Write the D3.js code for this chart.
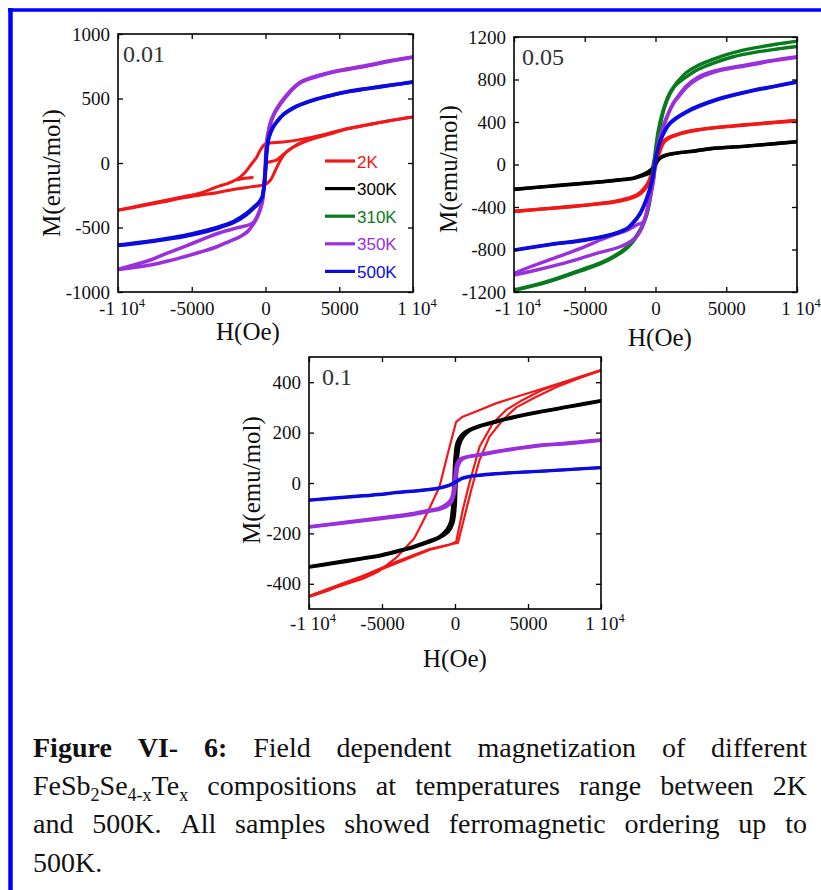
<!DOCTYPE html>
<html>
<head>
<meta charset="utf-8">
<script src="https://cdn.jsdelivr.net/npm/d3@7"></script>
<style>
body { margin: 0; background: #fff; }
svg { display: block; }
</style>
</head>
<body>
<svg id="fig" width="821" height="890"></svg>
<script>
// ---------- data : M(emu/mol) vs H(Oe), branches of each loop ----------
var temps = ['2K', '300K', '310K', '350K', '500K'];

var x_ticks = [-10000, -5000, 0, 5000, 10000];
var x_tick_labels = ['-1 10^4', '-5000', '0', '5000', '1 10^4'];
var y_ticks_001 = [-1000, -500, 0, 500, 1000];
var y_ticks_005 = [-1200, -800, -400, 0, 400, 800, 1200];
var y_ticks_01 = [-400, -200, 0, 200, 400];

// x = 0.01
var x001_2K_down = [[10000,357],[8500,330],[7000,298],[5500,265],[4000,222],[2400,183],[1200,162],[0,148],[-300,110],[-600,45],[-900,0],[-1400,-75],[-2000,-130],[-2600,-160],[-3300,-185],[-4400,-233],[-5500,-260],[-7000,-295],[-8500,-330],[-10000,-364]];
var x001_2K_up = [[-10000,-366],[-8500,-336],[-7000,-303],[-5500,-268],[-4400,-248],[-3300,-230],[-2200,-205],[-1000,-185],[0,-166],[340,-132],[680,-54],[1020,23],[1360,77],[1900,124],[2800,172],[3500,198],[4500,228],[5500,263],[7000,297],[8500,330],[10000,357]];
var x001_2K_virgin = [[0,0],[300,10],[700,20],[1000,45],[1450,90],[2100,140],[2800,175]];
var x001_2K_stub = [[-1900,-130],[-1400,-118],[-900,-112]];
var x001_350K_down = [[10000,820],[8500,790],[6900,752],[5500,724],[4600,705],[3500,670],[2400,625],[1900,580],[1400,515],[1000,455],[550,370],[230,260],[60,150],[0,20],[-80,-150],[-230,-310],[-570,-416],[-900,-468],[-2000,-505],[-3300,-548],[-4400,-598],[-5500,-648],[-6700,-700],[-7800,-752],[-10000,-824]];
var x001_350K_up = [[-10000,-826],[-8800,-808],[-7800,-791],[-6600,-760],[-5500,-726],[-4400,-690],[-3300,-649],[-2400,-605],[-1700,-570],[-1200,-530],[-800,-470],[-500,-405],[-250,-305],[-80,-150],[30,20],[120,170],[300,300],[600,390],[1000,462],[1400,522],[1900,583],[2400,630],[3500,676],[4600,708],[5500,728],[6900,757],[8500,794],[10000,822]];
var x001_500K_down = [[10000,630],[8500,602],[6900,575],[5500,550],[4600,527],[3500,495],[2400,452],[1900,426],[1250,378],[800,322],[500,272],[230,200],[80,95],[0,-40],[-80,-150],[-230,-262],[-500,-312],[-800,-342],[-1300,-392],[-2150,-452],[-3300,-500],[-4400,-533],[-5500,-562],[-6700,-585],[-8300,-612],[-10000,-636]];
var x001_500K_up = [[-10000,-640],[-8300,-617],[-6700,-591],[-5500,-570],[-4400,-543],[-3300,-508],[-2150,-461],[-1300,-401],[-800,-350],[-500,-317],[-230,-268],[-60,-150],[20,-30],[100,100],[250,205],[500,278],[800,326],[1250,381],[1900,430],[2400,455],[3500,498],[4600,530],[5500,553],[6900,578],[8500,604],[10000,626]];

// x = 0.05
var x005_2K_down = [[10000,415],[8500,398],[6900,380],[5500,364],[4000,345],[3000,328],[2200,308],[1500,282],[1000,258],[600,225],[300,180],[100,110],[-100,40],[-250,-60],[-450,-150],[-800,-225],[-1300,-285],[-2000,-320],[-3000,-350],[-4500,-375],[-6000,-395],[-8000,-418],[-10000,-440]];
var x005_2K_up = [[-10000,-442],[-8000,-420],[-6000,-398],[-4500,-378],[-3000,-355],[-2000,-328],[-1300,-295],[-800,-240],[-450,-170],[-200,-90],[0,-20],[150,50],[350,140],[600,210],[1000,252],[1500,278],[2200,304],[3000,325],[4000,342],[5500,361],[6900,378],[8500,396],[10000,412]];
var x005_300K_down = [[10000,215],[8000,192],[6500,175],[3900,150],[2500,124],[1300,105],[700,88],[350,65],[100,25],[-100,-15],[-300,-48],[-600,-75],[-900,-95],[-1600,-128],[-2500,-142],[-3900,-162],[-5300,-178],[-7500,-203],[-10000,-233]];
var x005_300K_up = [[-10000,-235],[-7500,-206],[-5300,-181],[-3900,-165],[-2500,-146],[-1600,-133],[-900,-105],[-500,-85],[-250,-55],[-50,-10],[150,35],[400,66],[800,88],[1300,103],[2500,122],[3900,148],[6500,173],[8000,190],[10000,213]];
var x005_310K_down = [[10000,1160],[8500,1132],[7000,1097],[5500,1052],[4100,992],[2900,925],[2200,868],[1700,800],[1300,735],[1000,672],[550,515],[200,325],[0,140],[-150,-30],[-300,-240],[-620,-459],[-1100,-617],[-2000,-774],[-3450,-899],[-5300,-993],[-7700,-1103],[-10000,-1181]];
var x005_310K_up = [[-10000,-1185],[-7700,-1110],[-5300,-1002],[-3450,-908],[-2000,-786],[-1100,-630],[-620,-475],[-300,-265],[-100,-60],[100,140],[300,340],[600,520],[1000,658],[1400,742],[2200,828],[2900,888],[4100,955],[5500,1014],[7000,1055],[8500,1085],[10000,1110]];
var x005_350K_down = [[10000,1015],[8500,985],[6500,940],[4100,878],[3000,822],[2200,742],[1600,645],[1250,578],[800,452],[320,262],[40,75],[-150,-146],[-500,-365],[-860,-539],[-1330,-569],[-2000,-618],[-3000,-665],[-3900,-711],[-5300,-790],[-7200,-883],[-8800,-960],[-10000,-1024]];
var x005_350K_up = [[-10000,-1040],[-8400,-993],[-6800,-940],[-5300,-883],[-4000,-830],[-2500,-774],[-1700,-720],[-1200,-655],[-860,-560],[-500,-380],[-150,-160],[40,60],[320,250],[800,440],[1250,568],[1600,632],[2200,728],[3000,808],[4100,868],[6500,932],[8500,980],[10000,1010]];
var x005_500K_down = [[10000,779],[8500,740],[6700,693],[4300,612],[2200,500],[1000,390],[440,262],[80,105],[-150,-83],[-510,-271],[-1100,-459],[-1500,-530],[-2000,-598],[-3000,-652],[-5000,-708],[-7500,-752],[-10000,-805]];
var x005_500K_up = [[-10000,-808],[-7500,-756],[-5000,-713],[-3000,-658],[-2000,-606],[-1500,-540],[-1100,-470],[-510,-285],[-150,-95],[80,95],[440,250],[1000,380],[2200,492],[4300,606],[6700,688],[8500,736],[10000,775]];

// x = 0.1
var x01_2K_down = [[10000,448],[8500,420],[7400,400],[6200,378],[5100,358],[4000,338],[2800,316],[1700,290],[530,263],[80,243],[-500,115],[-1060,-15],[-1750,-100],[-2300,-165],[-2800,-220],[-4000,-295],[-5200,-350],[-6300,-380],[-8600,-422],[-10000,-450]];
var x01_2K_up = [[-10000,-452],[-8600,-425],[-6300,-372],[-4000,-318],[-1750,-266],[-400,-246],[80,-233],[530,-107],[990,0],[1680,144],[2590,237],[3500,290],[4500,325],[6000,370],[7400,398],[8600,420],[10000,446]];
var x01_2K_up2 = [[-10000,-448],[-6300,-368],[-4000,-312],[-1750,-262],[-400,-244],[200,-238],[650,-134],[1110,-28],[1680,91],[2360,184],[3270,250],[4200,300],[5500,340],[7000,382],[8500,416],[10000,447]];
var x01_300K_down = [[10000,327],[8000,306],[5800,283],[4000,262],[2800,245],[1700,228],[1000,212],[450,190],[150,160],[0,100],[-80,0],[-170,-100],[-300,-155],[-550,-185],[-1060,-213],[-1750,-230],[-2900,-253],[-4000,-270],[-5200,-287],[-6300,-298],[-8200,-315],[-10000,-332]];
var x01_300K_up = [[-10000,-334],[-8200,-318],[-6300,-300],[-5200,-290],[-4000,-273],[-2900,-256],[-1750,-234],[-1060,-217],[-450,-193],[-150,-160],[0,-100],[80,0],[170,100],[300,152],[550,182],[1000,208],[1700,225],[2800,242],[4000,260],[5800,281],[8000,304],[10000,325]];
var x01_350K_down = [[10000,171],[8500,163],[7400,157],[5800,150],[4000,136],[2800,125],[1700,113],[800,104],[400,96],[200,85],[80,65],[0,30],[-60,-10],[-150,-45],[-300,-67],[-600,-85],[-1060,-100],[-1750,-108],[-3000,-122],[-5000,-138],[-7500,-156],[-10000,-173]];
var x01_350K_up = [[-10000,-175],[-7500,-158],[-5000,-141],[-3000,-126],[-1750,-112],[-1060,-105],[-600,-93],[-300,-80],[-100,-55],[0,-25],[60,15],[150,55],[300,80],[500,95],[800,102],[1700,111],[2800,123],[4000,134],[5800,148],[7400,155],[10000,169]];
var x01_500K_down = [[10000,62],[8000,55],[6000,48],[4000,42],[2800,38],[1500,31],[1000,27],[500,20],[100,8],[-200,-2],[-600,-12],[-1000,-18],[-1750,-25],[-3000,-32],[-4000,-37],[-5200,-45],[-6300,-50],[-8000,-58],[-10000,-67]];
var x01_500K_up = [[-10000,-68],[-8000,-60],[-6300,-52],[-5200,-47],[-4000,-39],[-3000,-34],[-1750,-27],[-1000,-20],[-600,-14],[-200,-5],[100,4],[500,17],[1000,25],[1500,29],[2800,36],[4000,41],[6000,47],[8000,54],[10000,61]];

var caption_lines = [
    '**Figure** **VI-** **6:** Field dependent magnetization of different',
    'FeSb_{2}Se_{4-x}Te_{x} compositions at temperatures range between 2K',
    'and 500K. All samples showed ferromagnetic ordering up to',
    '500K.'
];
var caption_justify = [true, true, true, false];

// ---------- styles ----------
var temp_colors = {'2K': '#f01818', '300K': '#000000', '310K': '#0a7a1e', '350K': '#9a30dc', '500K': '#0c0cde'};
var serif = '"Liberation Serif", "Times New Roman", serif';

var panels = [
    {
        label: '0.01', box: [118, 34, 413, 292], y_domain: [-1000, 1000], y_ticks: y_ticks_001,
        x_pad: 10, label_dx: 5, xtitle: [248, 340], ytitle: [60, 173], legend: true,
        series: [
            {temp: '2K', w: 3, lines: [x001_2K_down, x001_2K_up, x001_2K_virgin, x001_2K_stub]},
            {temp: '350K', w: 3.6, lines: [x001_350K_down, x001_350K_up]},
            {temp: '500K', w: 3.6, lines: [x001_500K_down, x001_500K_up]}
        ]
    },
    {
        label: '0.05', box: [514, 37, 797, 292], y_domain: [-1200, 1200], y_ticks: y_ticks_005,
        x_pad: 10, label_dx: 8, xtitle: [660, 346], ytitle: [457, 169], legend: false,
        series: [
            {temp: '2K', w: 3.4, lines: [x005_2K_down, x005_2K_up]},
            {temp: '300K', w: 3.4, lines: [x005_300K_down, x005_300K_up]},
            {temp: '310K', w: 3.4, lines: [x005_310K_down, x005_310K_up]},
            {temp: '350K', w: 3.4, lines: [x005_350K_down, x005_350K_up]},
            {temp: '500K', w: 3.4, lines: [x005_500K_down, x005_500K_up]}
        ]
    },
    {
        label: '0.1', box: [309, 357, 601, 609], y_domain: [-500, 500], y_ticks: y_ticks_01,
        x_pad: 8, label_dx: 13, xtitle: [455, 667], ytitle: [260, 480], legend: false,
        series: [
            {temp: '2K', w: 2.2, sharp: true, lines: [x01_2K_down, x01_2K_up, x01_2K_up2]},
            {temp: '300K', w: 3.4, lines: [x01_300K_down, x01_300K_up]},
            {temp: '350K', w: 3.4, lines: [x01_350K_down, x01_350K_up]},
            {temp: '500K', w: 3, lines: [x01_500K_down, x01_500K_up]}
        ]
    }
];

var svg = d3.select('#fig');

// blue page frame (cut at the right and bottom)
svg.append('line')
    .attr('x1', 8).attr('y1', 10).attr('x2', 821).attr('y2', 10)
    .attr('stroke', '#0000ff').attr('stroke-width', 3.6);
svg.append('line')
    .attr('x1', 10.5).attr('y1', 8).attr('x2', 10.5).attr('y2', 890)
    .attr('stroke', '#0000ff').attr('stroke-width', 4.5);

panels.forEach(drawPanel);
drawCaption();

function drawPanel(p, idx) {
    var g = svg.append('g');
    var x = d3.scaleLinear().domain([-10000, 10000]).range([p.box[0], p.box[2]]);
    var y = d3.scaleLinear().domain(p.y_domain).range([p.box[3], p.box[1]]);

    g.append('clipPath').attr('id', 'clip' + idx)
        .append('rect')
        .attr('x', p.box[0]).attr('y', p.box[1])
        .attr('width', p.box[2] - p.box[0]).attr('height', p.box[3] - p.box[1]);

    var curves = g.append('g').attr('clip-path', 'url(#clip' + idx + ')');
    p.series.forEach(function(s) {
        var line = d3.line()
            .x(function(d) { return x(d[0]); })
            .y(function(d) { return y(d[1]); })
            .curve(s.sharp ? d3.curveLinear : d3.curveCatmullRom.alpha(0.5));
        curves.selectAll(null)
            .data(s.lines)
            .enter()
            .append('path')
            .attr('d', line)
            .attr('fill', 'none')
            .attr('stroke', temp_colors[s.temp])
            .attr('stroke-width', s.w)
            .attr('stroke-linejoin', 'round')
            .attr('stroke-linecap', 'round');
    });

    // ticks point inwards on all four sides
    var bottom = g.append('g')
        .attr('transform', 'translate(0,' + p.box[3] + ')')
        .call(d3.axisBottom(x).tickValues(x_ticks).tickSizeInner(-5).tickSizeOuter(0).tickPadding(p.x_pad)
            .tickFormat(function(d, i) { return x_tick_labels[i]; }));
    g.append('g')
        .attr('transform', 'translate(0,' + p.box[1] + ')')
        .call(d3.axisTop(x).tickValues(x_ticks).tickSizeInner(-5).tickSizeOuter(0).tickFormat(''));
    g.append('g')
        .attr('transform', 'translate(' + p.box[0] + ',0)')
        .call(d3.axisLeft(y).tickValues(p.y_ticks).tickSizeInner(-5).tickSizeOuter(0).tickPadding(8)
            .tickFormat(function(d) { return String(d); }));
    g.append('g')
        .attr('transform', 'translate(' + p.box[2] + ',0)')
        .call(d3.axisRight(y).tickValues(p.y_ticks).tickSizeInner(-5).tickSizeOuter(0).tickFormat(''));

    g.selectAll('.domain').remove();
    g.selectAll('.tick line').attr('stroke-width', 1.3);
    g.selectAll('.tick text')
        .attr('font-family', serif)
        .attr('font-size', 19)
        .attr('fill', '#111');

    // "1 10^4" -> superscript exponent, centred on the "1 10" part
    bottom.selectAll('.tick text').each(function(d, i) {
        var lab = x_tick_labels[i];
        if (lab.indexOf('^') < 0) return;
        var parts = lab.split('^');
        var t = d3.select(this).text('').attr('x', 3.5);
        t.append('tspan').text(parts[0]);
        t.append('tspan').attr('font-size', 12.5).attr('dy', -8).text(parts[1]);
    });

    g.append('rect')
        .attr('x', p.box[0]).attr('y', p.box[1])
        .attr('width', p.box[2] - p.box[0]).attr('height', p.box[3] - p.box[1])
        .attr('fill', 'none').attr('stroke', '#000').attr('stroke-width', 1.6);

    g.append('text')
        .attr('x', p.box[0] + p.label_dx).attr('y', p.box[1] + 28)
        .attr('font-family', serif).attr('font-size', 24).attr('fill', '#333')
        .text(p.label);

    g.append('text')
        .attr('x', p.xtitle[0]).attr('y', p.xtitle[1])
        .attr('text-anchor', 'middle')
        .attr('font-family', serif).attr('font-size', 25).attr('fill', '#111')
        .text('H(Oe)');

    g.append('text')
        .attr('transform', 'translate(' + p.ytitle[0] + ',' + p.ytitle[1] + ') rotate(-90)')
        .attr('text-anchor', 'middle')
        .attr('font-family', serif).attr('font-size', 25).attr('fill', '#111')
        .text('M(emu/mol)');

    if (p.legend) {
        var items = g.append('g')
            .selectAll('g')
            .data(temps)
            .enter()
            .append('g')
            .attr('transform', function(d, i) { return 'translate(325,' + (161 + i * 27.6) + ')'; });
        items.append('line')
            .attr('x1', 0).attr('x2', 30)
            .attr('stroke', function(d) { return temp_colors[d]; })
            .attr('stroke-width', 3.2);
        items.append('text')
            .attr('x', 32).attr('y', 6.5)
            .attr('font-family', '"Liberation Sans", Arial, sans-serif')
            .attr('font-size', 17)
            .attr('fill', function(d) { return temp_colors[d]; })
            .text(function(d) { return d; });
    }
}

/**
 * caption, justified line by line like the source document
 * **word** is bold, _{..} is a subscript
 */
function drawCaption() {
    var x0 = 33, x1 = 807, base = 757, lh = 38.2;
    caption_lines.forEach(function(str, li) {
        var words = str.split(' ');
        var nodes = words.map(function(w) {
            var bold = /^\*\*.*\*\*$/.test(w);
            if (bold) w = w.slice(2, -2);
            var t = svg.append('text')
                .attr('y', base + li * lh)
                .attr('font-family', serif)
                .attr('font-size', 28)
                .attr('font-weight', bold ? 'bold' : 'normal')
                .attr('fill', '#111');
            var shift = 0;
            w.split(/_\{([^}]*)\}/).forEach(function(part, k) {
                if (!part) return;
                var target = (k % 2 == 1) ? 6 : 0;
                var ts = t.append('tspan').text(part);
                if (target != shift) ts.attr('dy', target - shift);
                if (k % 2 == 1) ts.attr('font-size', 18);
                shift = target;
            });
            return t;
        });
        var widths = nodes.map(function(t) { return t.node().getComputedTextLength(); });
        var gap = 7;
        if (caption_justify[li] && nodes.length > 1) {
            gap = (x1 - x0 - d3.sum(widths)) / (nodes.length - 1);
        }
        var cx = x0;
        nodes.forEach(function(t, i) {
            t.attr('x', cx);
            cx += widths[i] + gap;
        });
    });
}
</script>
</body>
</html>
